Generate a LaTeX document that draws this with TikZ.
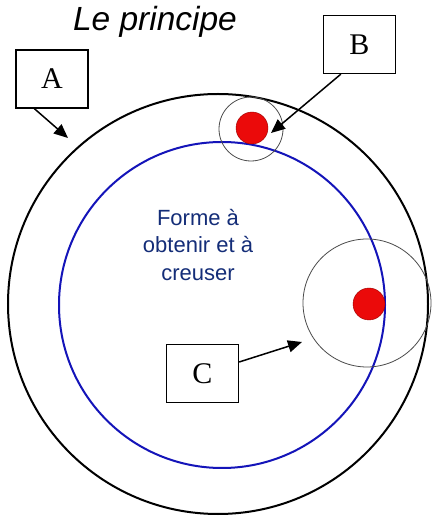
\documentclass[tikz,border=0pt]{standalone}
\usepackage{fontspec}
\setmainfont{Liberation Serif}
\newfontfamily\arialf{Liberation Sans}
\usetikzlibrary{arrows.meta}
\definecolor{navytxt}{RGB}{20,45,120}
\definecolor{bluec}{RGB}{20,20,185}
\definecolor{dotred}{RGB}{235,10,10}
\tikzset{
  letterbox/.style={draw=black,line width=1.3pt,minimum width=72pt,minimum height=58pt,inner sep=0pt,font=\fontsize{30}{30}\selectfont,fill=white},
  arr/.style={line width=1.5pt,-{Triangle[length=14pt,width=12pt]}},
  thinc/.style={draw=black!70,line width=0.8pt},
  reddot/.style={fill=dotred,draw=red!60!black,line width=0.4pt}
}
\begin{document}
\begin{tikzpicture}[x=1pt,y=1pt]
\useasboundingbox (0,0) rectangle (432,517);
\fill[white] (0,0) rectangle (432,517);
% circles
\draw[line width=2pt] (218,213) circle[radius=210];
\draw[bluec,line width=2pt] (222,212) circle[radius=163];
\draw[thinc] (251,388) circle[radius=32];
\filldraw[reddot] (252,389) circle[radius=16];
\draw[thinc] (367,214) circle[radius=64];
\filldraw[reddot] (369,213) circle[radius=16];
% title
\node (title) at (155,495) {\arialf\itshape\fontsize{33.5}{33.5}\selectfont Le principe};
% central text
\node[align=center,text=navytxt,font=\arialf\fontsize{22}{27.5}\selectfont] (txt) at (198,272) {Forme à\\obtenir et à\\creuser};
% boxes
\node[letterbox] (A) at (52,438) {A};
\node[letterbox] (B) at (359.5,472.5) {B};
\node[letterbox] (C) at (202.5,143.5) {C};
% arrow tips
\coordinate (atip) at (68,379);
\coordinate (btip) at (271,384);
\coordinate (ctip) at (302,175);
\draw[arr] ([xshift=19pt]A.south west) -- (atip);
\draw[arr] ([xshift=18pt]B.south west) -- (btip);
\draw[arr] ([yshift=11.5pt]C.east) -- (ctip);
\end{tikzpicture}
\end{document}
